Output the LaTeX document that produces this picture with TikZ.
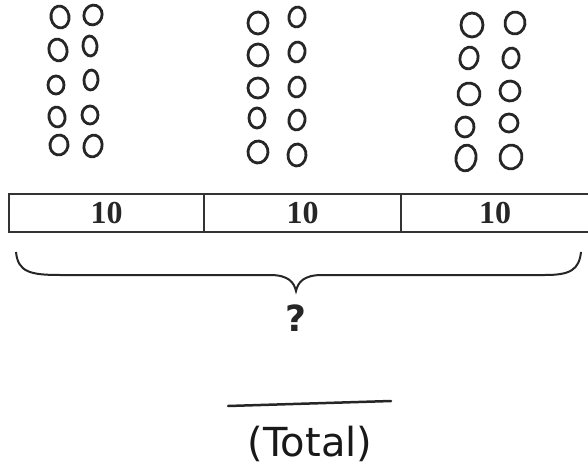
\documentclass[tikz,border=0pt]{standalone}
\usepackage{fontspec}
\setmainfont{Liberation Serif}
\newfontfamily\handfont{DejaVu Sans}[Scale=1]
\begin{document}
\begin{tikzpicture}[x=1pt,y=-1pt,
  counter/.style={draw=black!85,line width=2.8pt},
  barline/.style={draw=black!80,line width=2pt},
  numlbl/.style={font=\fontsize{32}{34}\selectfont\bfseries,text=black!85},
]
\useasboundingbox (0,0) rectangle (588,473);
% counters group 1
\foreach \x/\y/\a/\b/\r in {60/17/9/11/10, 93/15/9/10/-20, 58/50/9/11/15, 90/46/7/10/5,
  56/85/8/9/0, 91/80/7/10/-5, 57/117/8/10/10, 90/115/8/9/0, 59/145/9/10/-10, 93/146/9/11/-15}
  \draw[counter,rotate around={\r:(\x,\y)}] (\x,\y) ellipse [x radius=\a, y radius=\b];
% group 2
\foreach \x/\y/\a/\b/\r in {258/23/10/11/0, 297/17/8/10/-10, 258/55/10/11/0, 297/52/8/10/-10,
  258/88/10/10/0, 297/87/8/10/-10, 257/118/8/10/0, 297/120/8/10/-10, 258/152/10/11/-5, 297/155/9/11/-5}
  \draw[counter,rotate around={\r:(\x,\y)}] (\x,\y) ellipse [x radius=\a, y radius=\b];
% group 3
\foreach \x/\y/\a/\b/\r in {472/25/11/12/0, 515/23/10/11/-10, 469/58/9/11/-15, 511/58/8/10/-10,
  469/94/11/11/-10, 510/91/10/10/-5, 465/127/9/10/-5, 509/123/9/9/0, 466/158/10/13/-10, 511/157/11/12/-10}
  \draw[counter,rotate around={\r:(\x,\y)}] (\x,\y) ellipse [x radius=\a, y radius=\b];
% tape diagram
\node[barline,draw,minimum width=195pt,minimum height=38pt,anchor=north west,inner sep=0pt,numlbl] (b1) at (8,193) {10};
\node[barline,draw,minimum width=197pt,minimum height=38pt,anchor=north west,inner sep=0pt,numlbl] (b2) at (203,193) {10};
\node[barline,draw,minimum width=188pt,minimum height=38pt,anchor=north west,inner sep=0pt,numlbl] (b3) at (400,193) {10};
% brace
\coordinate (bl) at (16,252);
\coordinate (bt) at (296,291);
\coordinate (br) at (581,252);
\draw[line width=2pt,black!85] (bl) .. controls (18,272) and (30,275) .. (60,275)
  -- (270,275) .. controls (288,275) and (294,282) .. (bt)
  .. controls (298,282) and (304,275) .. (322,275)
  -- (545,275) .. controls (570,275) and (579,270) .. (br);
\node[font=\handfont\bfseries\fontsize{36}{40}\selectfont,text=black!85] (q) at (296,318) {?};
% total blank
\coordinate (tl) at (228,406);
\coordinate (tr) at (391,401);
\draw[line width=2.5pt,black!85,line cap=round] (tl) -- (tr);
\node[font=\handfont\fontsize{40}{42}\selectfont,text=black!90] (tot) at (310,444) {(Total)};
\end{tikzpicture}
\end{document}
